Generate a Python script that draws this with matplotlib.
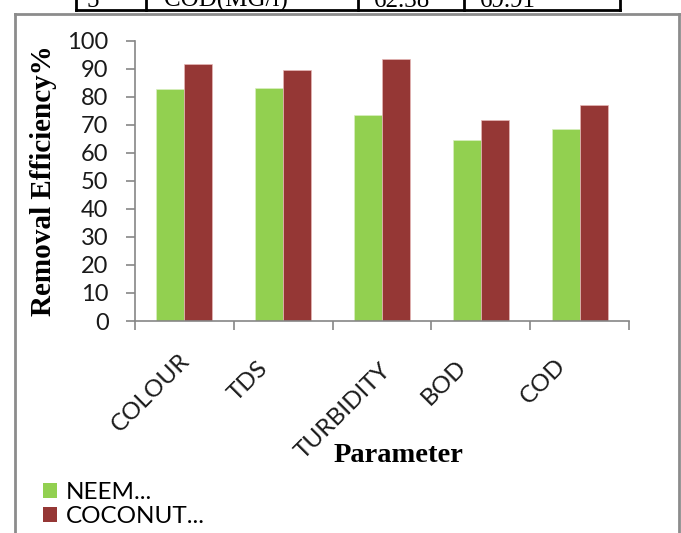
"""Removal efficiency of neem and coconut adsorbents"""

import matplotlib
matplotlib.use("Agg")
import matplotlib.pyplot as plt
from matplotlib.lines import Line2D
from matplotlib.patches import Patch
from matplotlib.transforms import ScaledTranslation
import numpy as np

parameters = ["COLOUR", "TDS", "TURBIDITY", "BOD", "COD"]
neem = [82.8, 83.2, 73.6, 64.6, 68.4]
coconut = [91.6, 89.5, 93.4, 71.6, 76.9]
series_names = ["NEEM...", "COCONUT..."]

# table row cut off at the top of the page
table_row = ["5", "COD(MG/l)", "62.38", "69.91"]

W, H = 681, 533
green = "#92D050"
red = "#953735"
axis_grey = "#868686"

fig = plt.figure(figsize=(W / 100, H / 100), dpi=100)
ax = fig.add_axes([135 / W, 1 - 321 / H, 494 / W, 280.3 / H])

x = np.arange(len(parameters))
bw = 0.283
ax.bar(x - bw / 2, neem, bw, color=green, edgecolor="#d9efc0", linewidth=0.5)
ax.bar(x + bw / 2, coconut, bw, color=red, edgecolor="#e6b8b7", linewidth=0.5)

ax.set_xlim(-0.5, len(parameters) - 0.5)
ax.set_ylim(0, 100)
ax.set_yticks(np.arange(0, 101, 10))
ax.set_xticks(np.arange(-0.5, len(parameters), 1.0))
ax.set_xticklabels([])

for s in ["top", "right"]:
    ax.spines[s].set_visible(False)
for s in ["left", "bottom"]:
    ax.spines[s].set_color(axis_grey)
    ax.spines[s].set_linewidth(1.2)
ax.tick_params(axis="both", color=axis_grey, width=1.2, length=6.5)
ax.tick_params(axis="y", labelsize=17, pad=12.5)
for lab in ax.get_yticklabels():
    lab.set_fontfamily("Lato")
    lab.set_color("#1a1a1a")

# category labels, rotated like the spreadsheet chart
offsets = [(-5, -29), (-26, -37), (-2, -39), (-25, -35), (-25, -34)]
for i, name in enumerate(parameters):
    dx, dy = offsets[i]
    tr = ax.get_xaxis_transform() + ScaledTranslation(dx / 100, dy / 100, fig.dpi_scale_trans)
    ax.text(i, 0, name, transform=tr, rotation=45, rotation_mode="anchor",
            ha="right", va="top", fontsize=17.5, family="Lato", color="#1a1a1a")

ax.set_ylabel("Removal Efficiency%", family="Liberation Serif", fontweight="bold",
              fontsize=21)
ax.yaxis.set_label_coords(-(135 - 57) / 494, 0.5)
ax.set_xlabel("Parameter", family="Liberation Serif", fontweight="bold",
              fontsize=20.5, va="baseline")
ax.xaxis.set_label_coords((398 - 135) / 494, -(462 - 321) / 280.3)

handles = [Patch(facecolor=green), Patch(facecolor=red)]
fig.legend(handles, series_names, loc="upper left",
           bbox_to_anchor=(43 / W, 1 - 482 / H), frameon=False,
           prop={"family": "Lato", "size": 17.5}, handlelength=0.58,
           handleheight=0.58, handletextpad=0.35, labelspacing=0.12,
           borderpad=0, borderaxespad=0)

# chart frame (bottom edge is off the page)
frame = dict(color="#8c8c8c", linewidth=2, transform=fig.transFigure)
fig.add_artist(Line2D([15 / W, 15 / W], [0, 1 - 14 / H], **frame))
fig.add_artist(Line2D([15 / W, 679 / W], [1 - 14 / H, 1 - 14 / H], **frame))
fig.add_artist(Line2D([679 / W, 679 / W], [0, 1 - 14 / H], **frame))

# bottom of the table above the chart
cells = [76, 146, 358, 464, 620]
tb = dict(color="black", linewidth=2, transform=fig.transFigure)
fig.add_artist(Line2D([cells[0] / W, cells[-1] / W], [1 - 10 / H] * 2, **tb))
for c in cells:
    fig.add_artist(Line2D([c / W, c / W], [1 - 10 / H, 1.02], **tb))
text_x = [93, 164, 374, 480]
for tx, t in zip(text_x, table_row):
    fig.text(tx / W, 1 - 7 / H, t, ha="left" if t != "5" else "center",
             va="baseline", family="Liberation Serif", fontsize=18)

fig.savefig("out.png", dpi=100)
